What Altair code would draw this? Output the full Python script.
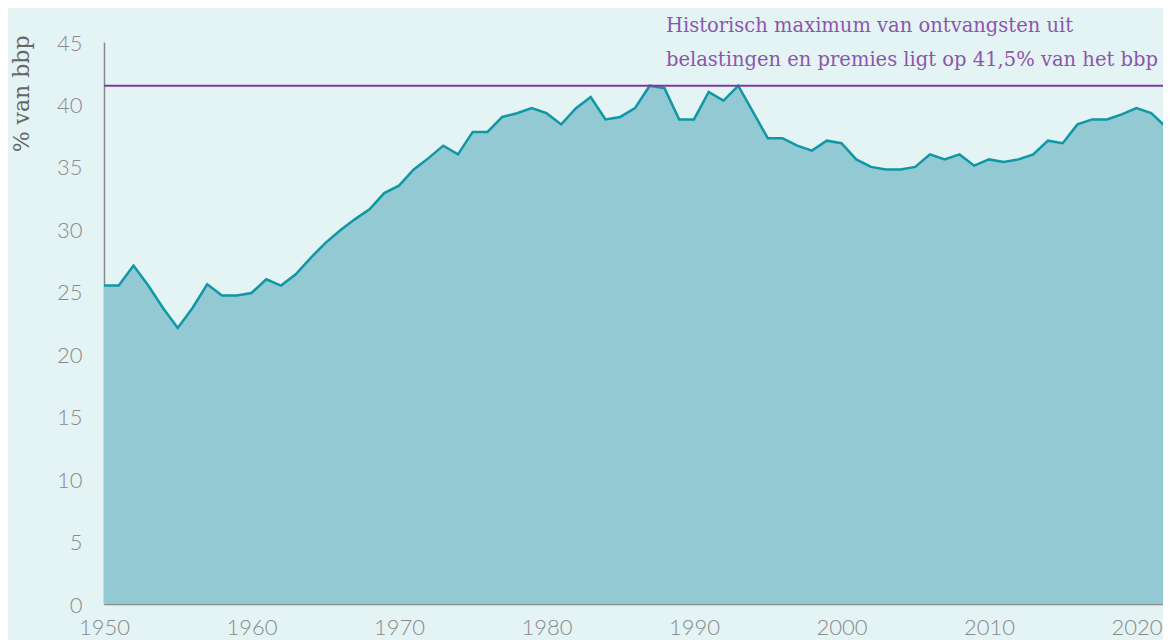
import altair as alt
import pandas as pd

years = list(range(1950, 2024))
values = [
    25.5, 25.5, 27.1, 25.5, 23.7, 22.1, 23.7, 25.6, 24.7, 24.7,  # 1950-1959
    24.9, 26.0, 25.5, 26.4, 27.7, 28.9, 29.9, 30.8, 31.6, 32.9,  # 1960-1969
    33.5, 34.8, 35.7, 36.7, 36.0, 37.8, 37.8, 39.0, 39.3, 39.7,  # 1970-1979
    39.3, 38.4, 39.7, 40.6, 38.8, 39.0, 39.7, 41.5, 41.3, 38.8,  # 1980-1989
    38.8, 41.0, 40.3, 41.5, 39.4, 37.3, 37.3, 36.7, 36.3, 37.1,  # 1990-1999
    36.9, 35.6, 35.0, 34.8, 34.8, 35.0, 36.0, 35.6, 36.0, 35.1,  # 2000-2009
    35.6, 35.4, 35.6, 36.0, 37.1, 36.9, 38.4, 38.8, 38.8, 39.2,  # 2010-2019
    39.7, 39.3, 38.2, 38.6,                                      # 2020-2023
]
x_ticks = [1950, 1960, 1970, 1980, 1990, 2000, 2010, 2020]
y_ticks = [0, 5, 10, 15, 20, 25, 30, 35, 40, 45]
max_value = [41.5]
note_year = [1988.1]
note_value = [45.8]
note_text = ["Historisch maximum van ontvangsten uit\nbelastingen en premies ligt op 41,5% van het bbp"]

df = pd.DataFrame({"jaar": years, "pct": values})
df_max = pd.DataFrame({"max": max_value})
df_note = pd.DataFrame({"jaar": note_year, "pct": note_value, "label": note_text})

x_scale = alt.Scale(domain=[1950, 2021.8], nice=False, zero=False)
y_scale = alt.Scale(domain=[0, 45], nice=False)

x_enc = alt.X(
    "jaar:Q",
    scale=x_scale,
    axis=alt.Axis(
        values=x_ticks, format="d", title=None, ticks=False, grid=False,
        labelFlush=False, labelPadding=13, labelFont="Lato", labelFontSize=22,
        labelFontWeight=300, labelColor="#8a8a8a",
        domainColor="#8a8a8a", domainWidth=1.5,
    ),
)
y_enc = alt.Y(
    "pct:Q",
    scale=y_scale,
    axis=alt.Axis(
        values=y_ticks, title="% van bbp", ticks=False, grid=False,
        labelPadding=22, labelFont="Lato", labelFontSize=22, labelFontWeight=300,
        labelColor="#8a8a8a", labelOffset=1,
        domainColor="#8a8a8a", domainWidth=1.5,
        titleFont="DejaVu Serif", titleFontSize=22, titleFontWeight="normal",
        titleColor="#666666", titleAngle=270, titleAlign="right",
        titleBaseline="alphabetic", titleX=-76, titleY=-7,
    ),
)

area = alt.Chart(df).mark_area(color="#93C9D3", clip=True).encode(x=x_enc, y=y_enc)
line = alt.Chart(df).mark_line(color="#0E98A5", strokeWidth=2.5, clip=True).encode(
    x="jaar:Q", y="pct:Q"
)
rule = alt.Chart(df_max).mark_rule(color="#7B3A9E", strokeWidth=2).encode(y="max:Q")
note = alt.Chart(df_note).mark_text(
    align="left", baseline="alphabetic", lineBreak="\n", lineHeight=33.5,
    font="DejaVu Serif", fontSize=19.5, color="#8C56AC",
).encode(x="jaar:Q", y="pct:Q", text="label:N")

chart = (
    alt.layer(area, line, rule, note)
    .properties(
        width=1059, height=562,
        autosize=alt.AutoSizeParams(type="none"),
        padding={"left": 96, "top": 34, "right": 0, "bottom": 36},
        background="#E4F3F4",
    )
    .configure_view(stroke=None)
)

chart.save("out.html", embed_options={"renderer": "svg", "actions": False})
